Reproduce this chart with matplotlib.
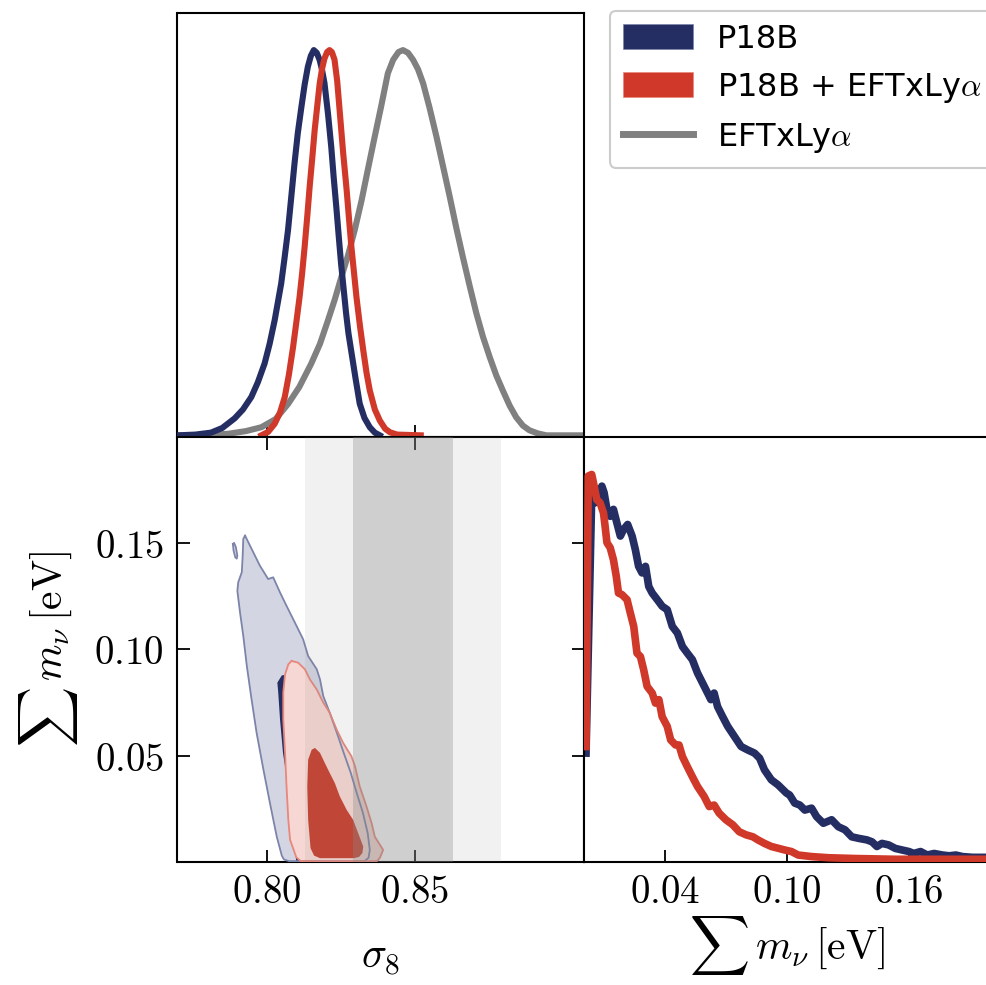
import matplotlib
matplotlib.use("Agg")
import matplotlib.pyplot as plt
from matplotlib.patches import Patch
from matplotlib.lines import Line2D

plt.rcParams['mathtext.fontset'] = 'cm'
plt.rcParams['font.family'] = ['DejaVu Sans']

# ---------------- data ----------------
series_names = ['P18B', r'P18B + EFTxLy$\alpha$', r'EFTxLy$\alpha$']

s8_ticks = [0.80, 0.85]
s8_ticklabels = ['0.80', '0.85']
mnu_yticks = [0.05, 0.10, 0.15]
mnu_yticklabels = ['0.05', '0.10', '0.15']
mnu_xticks = [0.04, 0.10, 0.16]
mnu_xticklabels = ['0.04', '0.10', '0.16']

# 1D sigma8 posteriors (normalised to peak)
blue_s8_x = [0.7701, 0.7760, 0.7812, 0.7850, 0.7892, 0.7920, 0.7948, 0.7970, 0.7993, 0.8010,
             0.8027, 0.8049, 0.8060, 0.8072, 0.8083, 0.8094, 0.8105, 0.8117, 0.8128, 0.8139,
             0.8149, 0.8159, 0.8169, 0.8179, 0.8187, 0.8195, 0.8207, 0.8218, 0.8226, 0.8235,
             0.8243, 0.8251, 0.8260, 0.8268, 0.8276, 0.8285, 0.8300, 0.8314, 0.8330, 0.8348,
             0.8365, 0.8382]
blue_s8_p = [0.003, 0.005, 0.010, 0.022, 0.047, 0.070, 0.102, 0.140, 0.189, 0.240,
             0.301, 0.396, 0.460, 0.534, 0.620, 0.707, 0.785, 0.852, 0.910, 0.957,
             0.985, 1.000, 0.993, 0.974, 0.948, 0.915, 0.835, 0.749, 0.672, 0.594,
             0.520, 0.448, 0.380, 0.319, 0.267, 0.223, 0.150, 0.085, 0.048, 0.024,
             0.010, 0.003]
red_s8_x = [0.7982, 0.8005, 0.8027, 0.8045, 0.8061, 0.8075, 0.8089, 0.8100, 0.8111, 0.8120,
            0.8128, 0.8137, 0.8145, 0.8154, 0.8162, 0.8171, 0.8179, 0.8187, 0.8195, 0.8204,
            0.8212, 0.8220, 0.8229, 0.8238, 0.8247, 0.8258, 0.8270, 0.8278, 0.8286, 0.8295,
            0.8303, 0.8315, 0.8326, 0.8337, 0.8348, 0.8365, 0.8382, 0.8400, 0.8416, 0.8440,
            0.8520]
red_s8_p = [0.003, 0.012, 0.033, 0.062, 0.102, 0.160, 0.231, 0.295, 0.361, 0.425,
            0.490, 0.570, 0.646, 0.722, 0.793, 0.858, 0.914, 0.952, 0.978, 0.995,
            1.000, 0.995, 0.975, 0.920, 0.837, 0.735, 0.637, 0.562, 0.490, 0.422,
            0.361, 0.285, 0.223, 0.165, 0.119, 0.070, 0.041, 0.020, 0.011, 0.005,
            0.003]
gray_s8_x = [0.7701, 0.7800, 0.7870, 0.7930, 0.7982, 0.8030, 0.8072, 0.8110, 0.8150, 0.8180,
             0.8207, 0.8230, 0.8251, 0.8275, 0.8297, 0.8320, 0.8341, 0.8363, 0.8386, 0.8409,
             0.8427, 0.8445, 0.8460, 0.8477, 0.8494, 0.8511, 0.8528, 0.8550, 0.8573, 0.8595,
             0.8618, 0.8640, 0.8662, 0.8685, 0.8708, 0.8730, 0.8753, 0.8775, 0.8797, 0.8820,
             0.8842, 0.8865, 0.8887, 0.8915, 0.8944, 0.9067]
gray_s8_p = [0.003, 0.004, 0.007, 0.014, 0.024, 0.045, 0.084, 0.128, 0.188, 0.240,
             0.301, 0.355, 0.410, 0.470, 0.534, 0.610, 0.689, 0.770, 0.853, 0.940,
             0.975, 0.995, 1.000, 0.993, 0.975, 0.950, 0.914, 0.850, 0.776, 0.700,
             0.620, 0.540, 0.465, 0.390, 0.318, 0.258, 0.205, 0.158, 0.119, 0.080,
             0.050, 0.028, 0.016, 0.008, 0.003, 0.003]

# EFTxLya sigma8 intervals (68%, 95%)
gray_band68 = [0.829, 0.863]
gray_band95 = [0.813, 0.879]

# 2D contours (sigma8, sum mnu)
blue_outer_s = [0.7927, 0.7949, 0.7977, 0.8005, 0.8022, 0.8045, 0.8067, 0.8095, 0.8123, 0.8140,
                0.8169, 0.8180, 0.8191, 0.8213, 0.8237, 0.8260, 0.8284, 0.8304, 0.8325, 0.8341,
                0.8348, 0.8344, 0.8330, 0.8075, 0.8058, 0.8051, 0.8034, 0.8011, 0.7989, 0.7966,
                0.7949, 0.7933, 0.7921, 0.7910, 0.7901, 0.7904, 0.7916, 0.7919, 0.7921]
blue_outer_m = [0.1534, 0.1472, 0.1393, 0.1330, 0.1338, 0.1267, 0.1204, 0.1126, 0.1047, 0.0968,
                0.0906, 0.0858, 0.0780, 0.0701, 0.0607, 0.0513, 0.0418, 0.0324, 0.0230, 0.0135,
                0.0057, 0.0020, 0.0004, 0.0004, 0.0012, 0.0030, 0.0119, 0.0277, 0.0434, 0.0607,
                0.0764, 0.0921, 0.1063, 0.1173, 0.1275, 0.1315, 0.1362, 0.1440, 0.1519]
blue_island_s = [0.7886, 0.7890, 0.7896, 0.7901, 0.7899, 0.7894, 0.7888]
blue_island_m = [0.1495, 0.1500, 0.1480, 0.1440, 0.1426, 0.1432, 0.1465]
blue_inner_s = [0.8051, 0.8036, 0.8039, 0.8045, 0.8055, 0.8072, 0.8085, 0.8100, 0.8290, 0.8280,
                0.8230, 0.8160, 0.8100, 0.8065]
blue_inner_m = [0.0877, 0.0843, 0.0796, 0.0670, 0.0513, 0.0355, 0.0198, 0.0000, 0.0000, 0.0200,
                0.0470, 0.0700, 0.0840, 0.0880]
red_outer_s = [0.8084, 0.8106, 0.8129, 0.8146, 0.8169, 0.8191, 0.8213, 0.8236, 0.8258, 0.8286,
               0.8298, 0.8314, 0.8337, 0.8354, 0.8365, 0.8393, 0.8382, 0.8372, 0.8115, 0.8100,
               0.8079, 0.8073, 0.8067, 0.8062, 0.8056, 0.8056, 0.8062, 0.8073]
red_outer_m = [0.0945, 0.0937, 0.0906, 0.0858, 0.0811, 0.0749, 0.0701, 0.0623, 0.0560, 0.0497,
               0.0450, 0.0355, 0.0261, 0.0183, 0.0119, 0.0057, 0.0019, 0.0004, 0.0004, 0.0022,
               0.0104, 0.0198, 0.0355, 0.0513, 0.0670, 0.0796, 0.0882, 0.0929]
red_inner_s = [0.8163, 0.8180, 0.8196, 0.8213, 0.8230, 0.8247, 0.8270, 0.8292, 0.8309, 0.8326,
               0.8323, 0.8312, 0.8295, 0.8180, 0.8160, 0.8148, 0.8140, 0.8137, 0.8140, 0.8152]
red_inner_m = [0.0536, 0.0513, 0.0466, 0.0418, 0.0371, 0.0308, 0.0245, 0.0198, 0.0135, 0.0072,
               0.0042, 0.0024, 0.0018, 0.0018, 0.0030, 0.0065, 0.0198, 0.0355, 0.0481, 0.0528]

# 1D sum mnu posteriors (normalised to peak of red)
blue_mnu_x = [0.0010, 0.0038, 0.0055, 0.0071, 0.0088, 0.0099, 0.0113, 0.0129, 0.0145, 0.0162,
              0.0179, 0.0195, 0.0215, 0.0237, 0.0253, 0.0269, 0.0286, 0.0303, 0.0319, 0.0336,
              0.0361, 0.0385, 0.0410, 0.0435, 0.0460, 0.0485, 0.0509, 0.0534, 0.0559, 0.0584,
              0.0609, 0.0625, 0.0641, 0.0658, 0.0683, 0.0708, 0.0741, 0.0774, 0.0807, 0.0840,
              0.0865, 0.0889, 0.0923, 0.0956, 0.0997, 0.1013, 0.1038, 0.1063, 0.1088, 0.1121,
              0.1146, 0.1179, 0.1220, 0.1253, 0.1286, 0.1319, 0.1353, 0.1394, 0.1419, 0.1443,
              0.1468, 0.1501, 0.1534, 0.1567, 0.1601, 0.1625, 0.1658, 0.1691, 0.1725, 0.1766,
              0.1799, 0.1832, 0.1865, 0.1915, 0.2000]
blue_mnu_p = [0.281, 0.944, 0.927, 0.944, 0.970, 0.953, 0.910, 0.892, 0.910, 0.875,
              0.841, 0.858, 0.871, 0.841, 0.806, 0.763, 0.746, 0.763, 0.711, 0.694,
              0.677, 0.660, 0.651, 0.608, 0.591, 0.556, 0.539, 0.522, 0.488, 0.462,
              0.436, 0.419, 0.436, 0.401, 0.375, 0.350, 0.324, 0.298, 0.289, 0.281,
              0.268, 0.238, 0.212, 0.199, 0.178, 0.173, 0.152, 0.147, 0.134, 0.139,
              0.117, 0.100, 0.109, 0.091, 0.083, 0.065, 0.061, 0.057, 0.052, 0.040,
              0.048, 0.044, 0.035, 0.031, 0.027, 0.022, 0.027, 0.018, 0.022, 0.018,
              0.016, 0.018, 0.014, 0.012, 0.012]
red_mnu_x = [0.0010, 0.0021, 0.0038, 0.0050, 0.0063, 0.0079, 0.0096, 0.0104, 0.0113, 0.0129,
             0.0145, 0.0159, 0.0170, 0.0187, 0.0212, 0.0228, 0.0245, 0.0261, 0.0278, 0.0294,
             0.0311, 0.0336, 0.0352, 0.0369, 0.0385, 0.0410, 0.0427, 0.0451, 0.0468, 0.0485,
             0.0509, 0.0534, 0.0559, 0.0592, 0.0617, 0.0641, 0.0666, 0.0699, 0.0733, 0.0765,
             0.0799, 0.0832, 0.0857, 0.0889, 0.0923, 0.0989, 0.1022, 0.1055, 0.1121, 0.1204,
             0.1336, 0.1534, 0.2000]
red_mnu_p = [0.298, 0.996, 1.000, 0.970, 0.935, 0.927, 0.901, 0.866, 0.824, 0.811,
             0.780, 0.737, 0.694, 0.690, 0.677, 0.643, 0.608, 0.539, 0.530, 0.496,
             0.453, 0.436, 0.410, 0.419, 0.375, 0.350, 0.315, 0.302, 0.302, 0.272,
             0.246, 0.220, 0.195, 0.169, 0.143, 0.147, 0.126, 0.109, 0.096, 0.078,
             0.070, 0.065, 0.057, 0.048, 0.040, 0.031, 0.027, 0.018, 0.014, 0.011,
             0.009, 0.007, 0.007]

# ---------------- style ----------------
C_BLUE = '#242e62'
C_RED = '#d0392a'
C_GRAY = '#808080'
C_BLUE_LIGHT = '#d3d6e2'
C_BLUE_EDGE = '#7c84aa'
C_RED_LIGHT = '#f6d7d3'
C_RED_EDGE = '#e8877b'
C_RED_DARK = '#c8402f'

W, H = 987, 985
fig = plt.figure(figsize=(W / 100, H / 100), dpi=100)

x0, x1, x2 = 177.5 / W, 584 / W, 1.003
y_top, y_mid, y_bot = 1 - 13 / H, 1 - 436.5 / H, 1 - 862 / H

ax_top = fig.add_axes([x0, y_mid, x1 - x0, y_top - y_mid])
ax_2d = fig.add_axes([x0, y_bot, x1 - x0, y_mid - y_bot])
ax_br = fig.add_axes([x1, y_bot, x2 - x1, y_mid - y_bot])

S8_LIM = (0.7699, 0.9071)
TICK_FS = 28
LAB_FS = 30
SPW = 1.5

for ax in (ax_top, ax_2d, ax_br):
    for sp in ax.spines.values():
        sp.set_linewidth(SPW)
    ax.tick_params(direction='in', length=9, width=1.3, labelsize=TICK_FS, pad=10)

# --- top: sigma8 1D ---
ax_top.plot(gray_s8_x, gray_s8_p, color=C_GRAY, lw=4.4, solid_joinstyle='round', zorder=2)
ax_top.plot(blue_s8_x, blue_s8_p, color=C_BLUE, lw=4.4, solid_joinstyle='round', zorder=3)
ax_top.plot(red_s8_x, red_s8_p, color=C_RED, lw=4.4, solid_joinstyle='round', zorder=4)
ax_top.set_xlim(*S8_LIM)
ax_top.set_ylim(0, 1.096)
ax_top.set_xticks(s8_ticks)
ax_top.set_xticklabels([])
ax_top.set_yticks([])

# --- bottom-left: 2D ---
ax_2d.fill(blue_outer_s, blue_outer_m, color=C_BLUE_LIGHT, lw=0, zorder=1)
ax_2d.fill(blue_island_s, blue_island_m, color=C_BLUE_LIGHT, lw=0, zorder=1)
ax_2d.fill(blue_inner_s, blue_inner_m, color=C_BLUE, lw=0, zorder=2)
ax_2d.fill(red_outer_s, red_outer_m, color=C_RED_LIGHT, lw=0, zorder=3)
ax_2d.fill(red_inner_s, red_inner_m, color=C_RED_DARK, lw=0, zorder=4)
ax_2d.plot(blue_outer_s + blue_outer_s[:1], blue_outer_m + blue_outer_m[:1],
           color=C_BLUE_EDGE, lw=1.3, zorder=5)
ax_2d.plot(blue_island_s + blue_island_s[:1], blue_island_m + blue_island_m[:1],
           color=C_BLUE_EDGE, lw=1.3, zorder=5)
ax_2d.plot(red_outer_s + red_outer_s[:1], red_outer_m + red_outer_m[:1],
           color=C_RED_EDGE, lw=1.3, zorder=5)
ax_2d.axvspan(*gray_band95, color='#888888', alpha=0.11, lw=0, zorder=6)
ax_2d.axvspan(*gray_band68, color='#888888', alpha=0.32, lw=0, zorder=6)
ax_2d.set_xlim(*S8_LIM)
ax_2d.set_ylim(0, 0.2)
ax_2d.set_xticks(s8_ticks)
ax_2d.set_xticklabels(['$%s$' % t for t in s8_ticklabels])
ax_2d.set_yticks(mnu_yticks)
ax_2d.set_yticklabels(['$%s$' % t for t in mnu_yticklabels])
ax_2d.tick_params(top=True, right=True)
ax_2d.tick_params(axis='x', pad=8)
ax_2d.set_xlabel(r'$\sigma_8$', fontsize=LAB_FS, labelpad=18)
ax_2d.set_ylabel(r'$\sum\, m_\nu\,[\mathrm{eV}]$', fontsize=LAB_FS, labelpad=10)

# --- bottom-right: sum mnu 1D ---
ax_br.plot(blue_mnu_x, blue_mnu_p, color=C_BLUE, lw=5.5, solid_joinstyle='round', zorder=2)
ax_br.plot(red_mnu_x, red_mnu_p, color=C_RED, lw=5.5, solid_joinstyle='round', zorder=3)
ax_br.set_xlim(0, 0.2)
ax_br.set_ylim(0, 1.098)
ax_br.set_xticks(mnu_xticks)
ax_br.set_xticklabels(['$%s$' % t for t in mnu_xticklabels])
ax_br.set_yticks([])
ax_br.tick_params(axis='x', pad=8)
ax_br.set_xlabel(r'$\sum\, m_\nu\,[\mathrm{eV}]$', fontsize=LAB_FS, labelpad=2)

# --- legend ---
handles = [Patch(facecolor=C_BLUE, edgecolor=C_BLUE_EDGE, lw=0.5),
           Patch(facecolor=C_RED, edgecolor=C_RED_EDGE, lw=0.5),
           Line2D([0], [0], color=C_GRAY, lw=5)]
leg = fig.legend(handles, series_names, loc='upper left',
                 bbox_to_anchor=(610 / W, 1 - 11 / H), fontsize=23,
                 frameon=True, fancybox=True, framealpha=1, edgecolor='#cccccc',
                 handlelength=2.2, handleheight=0.85, handletextpad=0.75,
                 borderpad=0.4, labelspacing=0.5, borderaxespad=0)
leg.get_frame().set_linewidth(1.5)

fig.savefig('out.png', dpi=100)
